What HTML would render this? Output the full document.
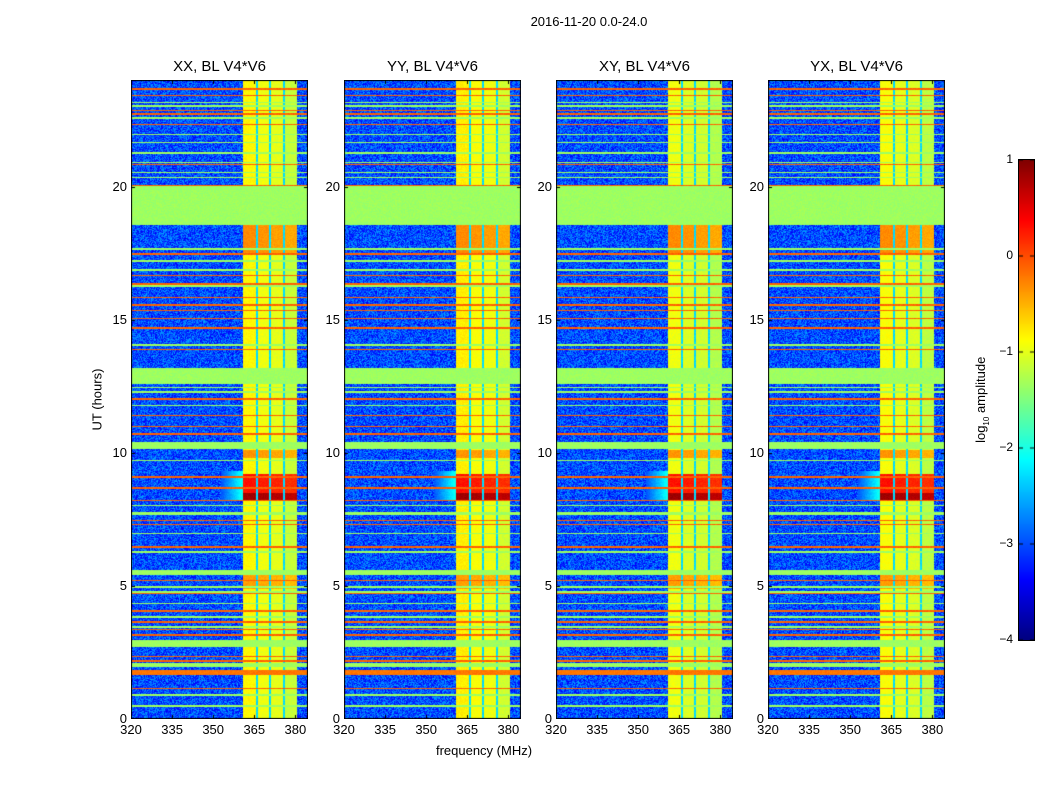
<!DOCTYPE html>
<html><head><meta charset="utf-8">
<style>
body{margin:0;background:#fff;font-family:"Liberation Sans",sans-serif;}
#fig{position:relative;width:1050px;height:800px;background:#fff;overflow:hidden;}
.t{position:absolute;color:#000;white-space:nowrap;}
canvas{position:absolute;}
</style></head>
<body>
<div id="fig">
<div class="t" style="left:489px;top:14px;width:200px;text-align:center;font-size:13px;">2016-11-20 0.0-24.0</div>
<div class="t" style="left:384px;top:743px;width:200px;text-align:center;font-size:13px;">frequency (MHz)</div>
<div class="t" style="left:47px;top:392px;width:100px;text-align:center;font-size:13px;transform:rotate(-90deg);">UT (hours)</div>
<div class="t" style="left:922px;top:391px;width:120px;text-align:center;font-size:13px;transform:rotate(-90deg);">log<sub style="font-size:8px">10</sub> amplitude</div>
<canvas id="cbar" width="15" height="480" style="left:1019px;top:160px;outline:1px solid #000;"></canvas>
</div>
<script>
// ---- data ----
const panelTitles = ["XX, BL V4*V6","YY, BL V4*V6","XY, BL V4*V6","YX, BL V4*V6"];
const xTicks = [320,335,350,365,380];
const yTicks = [0,5,10,15,20];
const cbTicks = [1,0,-1,-2,-3,-4];
const backgroundValue = -3.0;
const orangeLineT = [23.67,23.42,22.86,22.73,22.33,20.83,20.02,17.46,16.65,16.34,15.84,15.55,15.34,15.05,14.69,13.87,12.02,11.4,10.99,10.71,9.08,8.68,8.21,7.46,7.3,6.46,5.21,4.71,4.06,3.65,3.36,3.15,2.34,2.17,1.69,1.15];
const orangeLineV = -0.1;
const greenLineT = [23.15,23.02,22.58,21.96,21.65,21.25,20.9,20.53,20.34,17.65,17.21,16.87,16.27,14.05,12.46,12.29,11.77,9.71,8.02,6.96,6.27,4.96,4.77,4.34,3.84,3.46,0.9,0.49];
const greenLineV = -1.35;
const bandStart = [18.55,12.6,10.15,7.65,5.4,2.71,1.96,1.65];
const bandEnd   = [20.0,13.2,10.4,7.77,5.59,2.96,2.09,1.84];
const bandValue = [-1.35,-1.35,-1.35,-1.35,-1.35,-1.35,-1.35,-0.2];
const colStart = [361.0,366.3,371.0,376.1];
const colEnd   = [365.7,370.4,375.5,380.5];
const colValue = [-0.85,-0.95,-1.0,-1.15];
const gapValue = -2.3;
const panelOffset = [0,0.05,-0.1,-0.05];
const blobStart = [8.21,8.5,17.5,9.8,4.9];
const blobEnd   = [8.47,9.2,18.55,10.1,5.4];
const blobValue = [0.85,0.3,-0.3,-0.35,-0.4];
const haloStart = [8.2];
const haloEnd = [9.3];
const haloValue = [-2.0];

// ---- geometry ----
const panelLeft = [131,344,556,768];
const PT=80, PW=177, PH=639;
const FMIN=320, FMAX=384.6, TMIN=0, TMAX=24, VMIN=-4, VMAX=1;
const fx = f => (f-FMIN)/(FMAX-FMIN)*PW;
const ty = t => PH - (t-TMIN)/(TMAX-TMIN)*PH;

function jet(v){
  let x=(v-VMIN)/(VMAX-VMIN); x=Math.max(0,Math.min(1,x));
  const c=a=>Math.max(0,Math.min(1,a));
  return [c(1.5-Math.abs(4*x-3))*255,c(1.5-Math.abs(4*x-2))*255,c(1.5-Math.abs(4*x-1))*255];
}
function noise(i,j,p){let h=(i*374761393+j*668265263+p*982451653)|0;h=(h^(h>>>13))*1274126177;h=h^(h>>>16);return ((h>>>0)%1000)/1000;}

function valueAt(f,t,p){
  for(let k=0;k<bandStart.length;k++) if(t>=bandStart[k]&&t<=bandEnd[k]) return bandValue[k];
  for(const lt of orangeLineT) if(Math.abs(t-lt)<0.028) return orangeLineV;
  for(const lt of greenLineT) if(Math.abs(t-lt)<0.028) return greenLineV;
  let inCol=-1;
  for(let k=0;k<colStart.length;k++) if(f>=colStart[k]&&f<=colEnd[k]) inCol=k;
  if(inCol>=0){
    let v=colValue[inCol]+panelOffset[p];
    for(let k=0;k<blobStart.length;k++) if(t>=blobStart[k]&&t<=blobEnd[k]) v=Math.max(v,blobValue[k]-inCol*0.05);
    return v;
  }
  if(f>=colStart[0]&&f<=colEnd[colEnd.length-1]) return gapValue;
  for(let k=0;k<haloStart.length;k++) if(t>=haloStart[k]&&t<=haloEnd[k]&&f>353&&f<colStart[0]) return haloValue[k]-(colStart[0]-f)*0.12;
  return null;
}

const fig=document.getElementById('fig');
function addText(txt,l,t,w,align,size,name){
  const d=document.createElement('div');d.className='t';
  
  
  d.style.left=l+'px';d.style.top=t+'px';d.style.width=w+'px';d.style.textAlign=align;d.style.fontSize=size+'px';
  d.textContent=txt;fig.appendChild(d);
}
const fmt=v=>v<0?'\u2212'+(-v):''+v;

panelLeft.forEach((L,p)=>{
  const cv=document.createElement('canvas');cv.width=PW;cv.height=PH;
  
  
  cv.style.left=L+'px';cv.style.top=PT+'px';
  fig.appendChild(cv);
  const ctx=cv.getContext('2d');const img=ctx.createImageData(PW,PH);
  for(let j=0;j<PH;j++){const t=TMAX-(j+0.5)/PH*(TMAX-TMIN);
    for(let i=0;i<PW;i++){const f=FMIN+(i+0.5)/PW*(FMAX-FMIN);
      let v=valueAt(f,t,p);
      if(v===null) v=backgroundValue+(noise(i,j,p)-0.5)*0.9;
      else v+= (noise(i,j,p)-0.5)*0.15;
      const c=jet(v);const o=(j*PW+i)*4;img.data[o]=c[0];img.data[o+1]=c[1];img.data[o+2]=c[2];img.data[o+3]=255;}}
  ctx.putImageData(img,0,0);
  ctx.strokeStyle='#000';ctx.lineWidth=1;ctx.strokeRect(0.5,0.5,PW-1,PH-1);
  xTicks.forEach(v=>{const x=Math.round(fx(v))+0.5;ctx.beginPath();ctx.moveTo(x,0);ctx.lineTo(x,4);ctx.moveTo(x,PH);ctx.lineTo(x,PH-4);ctx.stroke();
    addText(fmt(v),L+fx(v)-20,PT+PH+3,40,'center',13,'x-tick-label');});
  yTicks.forEach(v=>{const y=Math.round(ty(v))+0.5;ctx.beginPath();ctx.moveTo(0,y);ctx.lineTo(4,y);ctx.moveTo(PW,y);ctx.lineTo(PW-4,y);ctx.stroke();
    addText(fmt(v),L-44,PT+ty(v)-8,40,'right',13,'y-tick-label');});
  addText(panelTitles[p],L,PT-22,PW,'center',15,'panel-title');
});

const cb=document.getElementById('cbar');const cctx=cb.getContext('2d');
for(let j=0;j<480;j++){const v=VMAX-(j+0.5)/480*(VMAX-VMIN);const c=jet(v);cctx.fillStyle=`rgb(${c[0]|0},${c[1]|0},${c[2]|0})`;cctx.fillRect(0,j,15,1);}
cbTicks.forEach(v=>{const y=(VMAX-v)/(VMAX-VMIN)*480;cctx.fillStyle='#000';cctx.fillRect(0,Math.round(y)-0.5,4,1);cctx.fillRect(11,Math.round(y)-0.5,4,1);
  addText(fmt(v),975,160+y-8,38,'right',12,'colorbar-tick-label');});
</script>
</body></html>
